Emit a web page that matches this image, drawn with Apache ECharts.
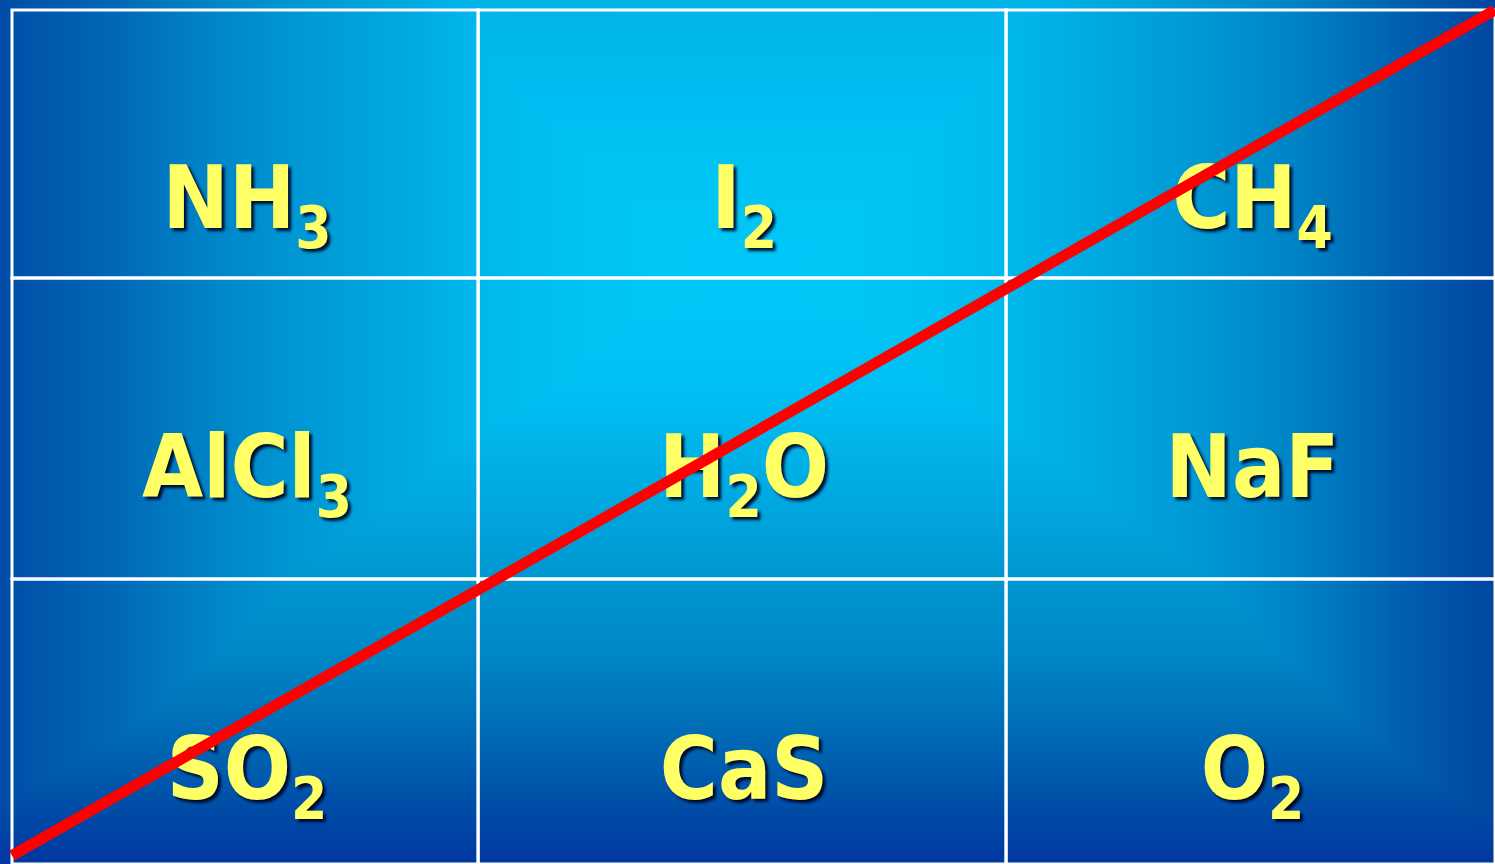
<!DOCTYPE html>
<html>
<head>
<meta charset="utf-8">
<script src="https://cdn.jsdelivr.net/npm/echarts@6/dist/echarts.min.js"></script>
<style>
html, body { margin: 0; padding: 0; background: #0050a8; }
#chart { width: 1495px; height: 864px; }
</style>
</head>
<body>
<div id="chart"></div>
<script>
// table contents, top row first; digits are written as subscripts
var formulas = [
    ['NH3', 'I2', 'CH4'],
    ['AlCl3', 'H2O', 'NaF'],
    ['SO2', 'CaS', 'O2']
];
// the red cross-out line, in table units (x: left->right, y: top->bottom)
var crossX = [0, 1];
var crossY = [0.99, 0];

// table layout (fractions of the table box) and text drop below cell middle
var colEdges = [0, 0.3143, 0.6703, 1];
var rowEdges = [0, 0.3139, 0.6663, 1];
var rowTextDrop = [83, 68, 77];

var mainSize = 88, subSize = 58, squeeze = 0.9;
var measureCtx = document.createElement('canvas').getContext('2d');
function textWidth(str, size) {
    measureCtx.font = 'bold ' + size + 'px "DejaVu Sans"';
    return measureCtx.measureText(str).width;
}

var cells = [];
for (var r = 0; r < formulas.length; r++) {
    for (var c = 0; c < formulas[r].length; c++) {
        cells.push([c, r]);
    }
}

function renderCell(params, api) {
    var c = api.value(0), r = api.value(1);
    var p0 = api.coord([colEdges[c], rowEdges[r]]);
    var p1 = api.coord([colEdges[c + 1], rowEdges[r + 1]]);
    var x0 = Math.min(p0[0], p1[0]), y0 = Math.min(p0[1], p1[1]);
    var w = Math.abs(p1[0] - p0[0]), h = Math.abs(p1[1] - p0[1]);
    var children = [{
        type: 'rect',
        shape: { x: x0, y: y0, width: w, height: h },
        style: { fill: 'none', stroke: '#ffffff', lineWidth: 3 }
    }];

    var parts = formulas[r][c].match(/\d+|\D+/g);
    var total = 0;
    parts.forEach(function (p) {
        total += textWidth(p, /\d/.test(p) ? subSize : mainSize) * squeeze;
    });
    var x = x0 + w / 2 - total / 2 + 2;
    var baseline = y0 + h / 2 + rowTextDrop[r];
    parts.forEach(function (p) {
        var isSub = /\d/.test(p);
        var size = isSub ? subSize : mainSize;
        var base = baseline + (isSub ? 20 : 0);
        children.push({
            type: 'text',
            x: x,
            y: base - 0.25 * size,
            scaleX: squeeze,
            style: {
                text: p,
                font: 'bold ' + size + 'px "DejaVu Sans"',
                fill: '#ffff66',
                align: 'left',
                verticalAlign: 'middle',
                textShadowColor: 'rgba(0,0,30,0.9)',
                textShadowBlur: 3,
                textShadowOffsetX: 3,
                textShadowOffsetY: 3
            }
        });
        x += textWidth(p, size) * squeeze;
    });
    return { type: 'group', children: children };
}

var chart = echarts.init(document.getElementById('chart'));
var option = {
    animation: false,
    backgroundColor: '#0050a8',
    graphic: [
        {
            type: 'rect', z: 0, silent: true,
            shape: { x: 0, y: 0, width: 1495, height: 864 },
            style: {
                fill: {
                    type: 'linear', x: 0, y: 0, x2: 0, y2: 1,
                    colorStops: [
                        { offset: 0, color: '#00b4e8' },
                        { offset: 0.116, color: '#00bcf0' },
                        { offset: 0.197, color: '#00c4f4' },
                        { offset: 0.336, color: '#00c8f8' },
                        { offset: 0.463, color: '#00bef2' },
                        { offset: 0.579, color: '#00a8e0' },
                        { offset: 0.671, color: '#0096d0' },
                        { offset: 0.752, color: '#0088c8' },
                        { offset: 0.833, color: '#0070b8' },
                        { offset: 0.926, color: '#0050a8' },
                        { offset: 1, color: '#0036a0' }
                    ]
                }
            }
        },
        {
            type: 'rect', z: 1, silent: true,
            shape: { x: 0, y: 0, width: 1495, height: 864 },
            style: {
                blend: 'darken',
                fill: {
                    type: 'linear', x: 0, y: 0, x2: 1, y2: 0,
                    colorStops: [
                        { offset: 0, color: '#004ca6' },
                        { offset: 0.007, color: '#0050a8' },
                        { offset: 0.067, color: '#0064b4' },
                        { offset: 0.134, color: '#0082c5' },
                        { offset: 0.2, color: '#0098d4' },
                        { offset: 0.268, color: '#00a8e0' },
                        { offset: 0.321, color: '#00b8ec' },
                        { offset: 0.4, color: '#00c4f4' },
                        { offset: 0.5, color: '#00caf8' },
                        { offset: 0.6, color: '#00c4f4' },
                        { offset: 0.676, color: '#00b8ec' },
                        { offset: 0.736, color: '#00a8e0' },
                        { offset: 0.803, color: '#0098d4' },
                        { offset: 0.87, color: '#0082c5' },
                        { offset: 0.936, color: '#0060b0' },
                        { offset: 1, color: '#0046a0' }
                    ]
                }
            }
        }
    ],
    grid: { left: 12, top: 10, right: -3, bottom: -3, containLabel: false },
    xAxis: {
        type: 'value', min: 0, max: 1, position: 'top', offset: 4,
        axisLine: { show: true, lineStyle: { color: '#ffffff', width: 4 } },
        axisTick: { show: false }, axisLabel: { show: false }, splitLine: { show: false }
    },
    yAxis: {
        type: 'value', min: 0, max: 1, inverse: true, position: 'left', offset: 4,
        axisLine: { show: true, lineStyle: { color: '#ffffff', width: 4 } },
        axisTick: { show: false }, axisLabel: { show: false }, splitLine: { show: false }
    },
    series: [
        {
            type: 'custom',
            z: 2,
            silent: true,
            renderItem: renderCell,
            data: cells
        },
        {
            type: 'line',
            z: 5,
            silent: true,
            clip: false,
            symbol: 'none',
            lineStyle: { color: '#ff0000', width: 11 },
            data: crossX.map(function (x, i) { return [x, crossY[i]]; })
        }
    ]
};
chart.setOption(option);
</script>
</body>
</html>
